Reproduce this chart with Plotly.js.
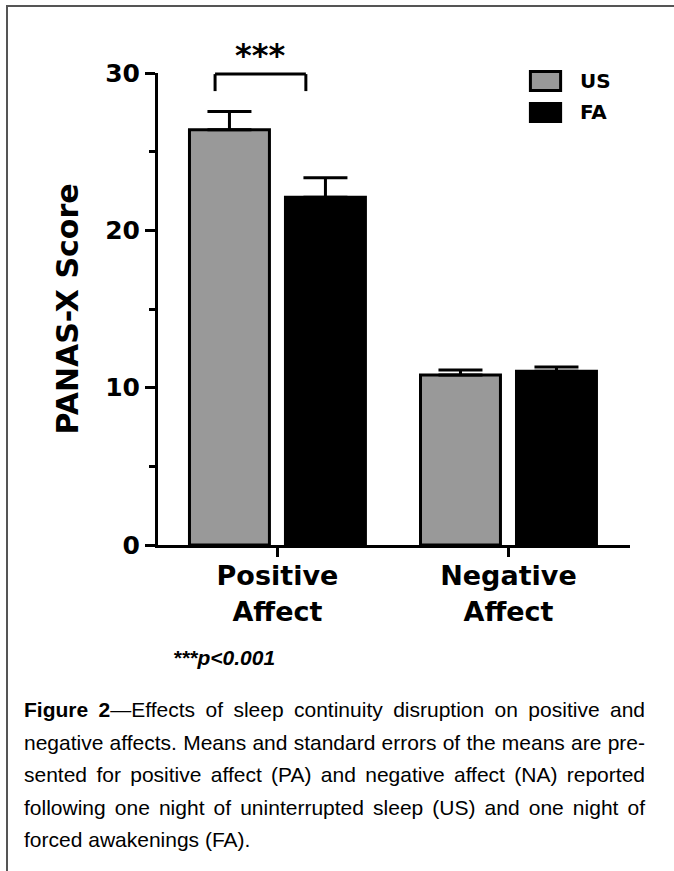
<!DOCTYPE html>
<html>
<head>
<meta charset="utf-8">
<script src="https://cdn.plot.ly/plotly-3.0.1.min.js"></script>
<style>
  html, body { margin: 0; padding: 0; background: #ffffff; }
  #wrap { position: relative; width: 674px; height: 871px; overflow: hidden; background: #fff; }
  #chart { position: absolute; left: 0; top: 0; width: 674px; height: 871px; }
  #frame { position: absolute; left: 6px; top: 5px; width: 720px; height: 900px;
           border-top: 2px solid #555; border-left: 2px solid #555; pointer-events: none; }
  #note { position: absolute; left: 173px; top: 642px; line-height: 32.5px;
          font-family: 'Liberation Sans', Arial, sans-serif; font-weight: bold; font-style: italic;
          font-size: 21px; color: #000; white-space: nowrap; }
  #caption { position: absolute; left: 24px; top: 694px; width: 621px;
             font-family: 'Liberation Sans', Arial, sans-serif; font-size: 21px; line-height: 32.5px; color: #000; }
  #caption .ln { text-align: justify; text-align-last: justify; }
  #caption .ln.last { text-align: left; text-align-last: left; }
</style>
</head>
<body>
<div id="wrap">
  <div id="chart"></div>
  <div id="frame"></div>
  <div id="note">***p&lt;0.001</div>
  <div id="caption">
    <div class="ln"><b>Figure 2</b>—Effects of sleep continuity disruption on positive and</div>
    <div class="ln">negative affects. Means and standard errors of the means are pre-</div>
    <div class="ln">sented for positive affect (PA) and negative affect (NA) reported</div>
    <div class="ln">following one night of uninterrupted sleep (US) and one night of</div>
    <div class="ln last">forced awakenings (FA).</div>
  </div>
</div>
<script>
// ---- data ----
const categories = ['Positive<br>Affect', 'Negative<br>Affect'];
const seriesNames = ['US', 'FA'];
const usMean = [26.4, 10.8];
const usSem = [1.15, 0.32];
const faMean = [22.1, 11.05];
const faSem = [1.25, 0.27];
const yTicks = [0, 10, 20, 30];
const yMinorTicks = [5, 15, 25];
const yMax = 30;
const sigLabel = '***';
const sigSpan = [-0.27, 0.123];   // bracket ends on the category scale
const sigLevels = [29.93, 28.85]; // bracket top and leg bottom (score units)
const sigLabelLevel = 31.15;      // height of the *** label (score units)

const xpos = categories.map((c, i) => i);
const zeros = categories.map(() => 0);
const fontB = 'DejaVu Sans, sans-serif';

const traces = [
  {
    type: 'bar', name: seriesNames[0], x: xpos, y: usMean,
    marker: { color: '#999999', line: { color: '#000000', width: 3 } },
    error_y: { type: 'data', symmetric: false, array: usSem, arrayminus: zeros,
               color: '#000000', thickness: 3, width: 22 },
    hoverinfo: 'skip'
  },
  {
    type: 'bar', name: seriesNames[1], x: xpos, y: faMean,
    marker: { color: '#000000', line: { color: '#000000', width: 3 } },
    error_y: { type: 'data', symmetric: false, array: faSem, arrayminus: zeros,
               color: '#000000', thickness: 3, width: 22 },
    hoverinfo: 'skip'
  }
];

const p = v => v / yMax;
const legendItems = [
  { name: seriesNames[0], fill: '#999999', y0: 0.963, y1: 1.003, ty: 0.982 },
  { name: seriesNames[1], fill: '#000000', y0: 0.8975, y1: 0.9355, ty: 0.917 }
];

const shapes = [
  { type: 'line', xref: 'x', yref: 'paper', x0: sigSpan[0], x1: sigSpan[1], y0: p(sigLevels[0]), y1: p(sigLevels[0]), line: { color: '#000', width: 3 } },
  { type: 'line', xref: 'x', yref: 'paper', x0: sigSpan[0], x1: sigSpan[0], y0: p(sigLevels[0]), y1: p(sigLevels[1]), line: { color: '#000', width: 3 } },
  { type: 'line', xref: 'x', yref: 'paper', x0: sigSpan[1], x1: sigSpan[1], y0: p(sigLevels[0]), y1: p(sigLevels[1]), line: { color: '#000', width: 3 } }
];
legendItems.forEach(it => {
  shapes.push({ type: 'rect', xref: 'paper', yref: 'paper', x0: 0.789, x1: 0.853, y0: it.y0, y1: it.y1,
                fillcolor: it.fill, line: { color: '#000', width: 3 }, layer: 'above' });
});

const annotations = [
  { text: sigLabel, xref: 'x', yref: 'paper', x: (sigSpan[0] + sigSpan[1]) / 2, y: p(sigLabelLevel),
    showarrow: false, xanchor: 'center', yanchor: 'middle',
    font: { family: fontB, size: 32, weight: 'bold', color: '#000' } }
];
legendItems.forEach(it => {
  annotations.push({ text: it.name, xref: 'paper', yref: 'paper', x: 0.889, y: it.ty,
    showarrow: false, xanchor: 'left', yanchor: 'middle',
    font: { family: fontB, size: 20, weight: 'bold', color: '#000' } });
});

const layout = {
  width: 674, height: 871,
  margin: { l: 158, r: 44, t: 73, b: 326, pad: 0 },
  paper_bgcolor: 'rgba(0,0,0,0)', plot_bgcolor: 'rgba(0,0,0,0)',
  barmode: 'group', bargap: 0.169, bargroupgap: 0.167,
  showlegend: false,
  xaxis: {
    range: [-0.517, 1.526], tickvals: xpos, ticktext: categories,
    ticks: 'outside', ticklen: 9, tickwidth: 3, tickcolor: '#000',
    showline: true, linewidth: 3, linecolor: '#000',
    showgrid: false, zeroline: false, fixedrange: true, ticklabelstandoff: -4,
    tickfont: { family: fontB, size: 27, weight: 'bold', color: '#000' }
  },
  yaxis: {
    range: [0, yMax], tickvals: yTicks,
    ticks: 'outside', ticklen: 10, tickwidth: 3, tickcolor: '#000',
    showline: true, linewidth: 3, linecolor: '#000',
    showgrid: false, zeroline: false, fixedrange: true,
    tickfont: { family: fontB, size: 25, weight: 'bold', color: '#000' },
    minor: { tickvals: yMinorTicks, ticks: 'outside', ticklen: 6, tickwidth: 3, tickcolor: '#000', showgrid: false },
    title: { text: 'PANAS-X Score', standoff: 18,
             font: { family: fontB, size: 30, weight: 'bold', color: '#000' } }
  },
  shapes: shapes,
  annotations: annotations
};

Plotly.newPlot('chart', traces, layout, { displayModeBar: false, staticPlot: true });
</script>
</body>
</html>
